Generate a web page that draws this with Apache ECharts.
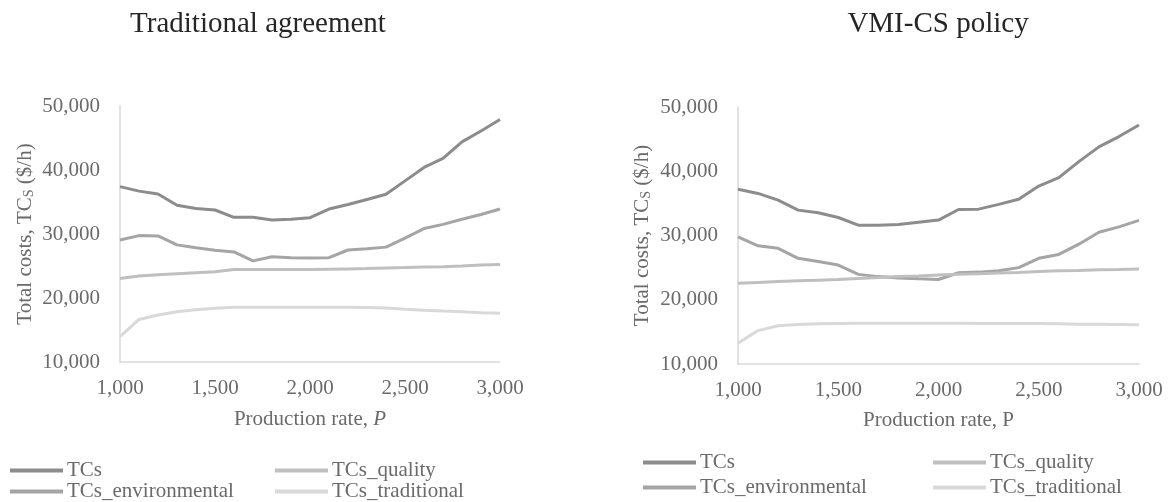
<!DOCTYPE html>
<html>
<head>
<meta charset="utf-8">
<script src="https://cdn.jsdelivr.net/npm/echarts@6/dist/echarts.min.js"></script>
<style>
html,body{margin:0;padding:0;background:#fff;}
#chart{width:1169px;height:502px;}
</style>
</head>
<body>
<div id="chart"></div>
<script>
// ---- data ----
const productionRate = [1000,1100,1200,1300,1400,1500,1600,1700,1800,1900,2000,2100,2200,2300,2400,2500,2600,2700,2800,2900,3000];

const seriesNames = ['TCs','TCs_quality','TCs_environmental','TCs_traditional'];
const chartTitles = ['Traditional agreement','VMI-CS policy'];

// Traditional agreement
const tradTCs = [37400,36700,36250,34500,34000,33750,32600,32600,32200,32300,32550,33900,34600,35400,36200,38300,40400,41800,44400,46100,47900];
const tradEnv = [29050,29750,29700,28300,27850,27450,27200,25800,26450,26300,26250,26300,27500,27700,27950,29350,30850,31500,32300,33050,33900];
const tradQual = [23050,23450,23650,23800,23950,24100,24450,24450,24450,24450,24450,24500,24550,24600,24700,24750,24850,24900,25000,25150,25250];
const tradTrad = [13950,16650,17350,17850,18150,18400,18550,18550,18550,18550,18550,18550,18550,18500,18450,18250,18100,17950,17850,17700,17600];

// VMI-CS policy
const vmiTCs = [37200,36550,35500,33950,33550,32800,31600,31600,31700,32050,32400,34050,34100,34850,35650,37700,39000,41500,43800,45400,47200];
const vmiEnv = [29800,28400,28000,26450,25950,25400,23950,23600,23400,23250,23150,24200,24300,24500,25000,26450,27050,28650,30500,31350,32350];
const vmiQual = [22550,22700,22850,22950,23050,23150,23300,23450,23600,23700,23850,23950,24050,24150,24250,24400,24500,24550,24650,24700,24800];
const vmiTrad = [13250,15200,15950,16150,16250,16300,16350,16350,16350,16350,16350,16350,16300,16300,16300,16300,16250,16200,16200,16150,16100];

const chartData = [
  [tradTCs, tradQual, tradEnv, tradTrad],
  [vmiTCs, vmiQual, vmiEnv, vmiTrad]
];
const xItalicP = [true, false];

// ---- styles ----
const FONT = "'Liberation Serif', 'Times New Roman', serif";
const lineColors = {'TCs':'#8c8c8c','TCs_quality':'#bfbfbf','TCs_environmental':'#a5a5a5','TCs_traditional':'#d9d9d9'};
const textGrey = '#6a6a6a';
const axisGrey = '#d9d9d9';

const fmt = v => Number(v).toLocaleString('en-US');

const grids = [
  {left:120, top:106, width:380, height:256},
  {left:738, top:107, width:401, height:257}
];
const titlePos = [{cx:253}, {cx:933}];

// legend placement: [name, left, top]
const legendSlots = [
  ['TCs',10,460],['TCs_environmental',10,481],['TCs_quality',275,460],['TCs_traditional',275,481],
  ['TCs',643,452],['TCs_environmental',643,477],['TCs_quality',933,452],['TCs_traditional',933,477]
];

const option = {
  animation:false,
  backgroundColor:'#fff',
  title: chartTitles.map((t,i)=>({
    text:t,
    left: titlePos[i].cx, top:5,
    textAlign:'center',
    textStyle:{fontFamily:FONT,fontSize:29,fontWeight:'normal',color:'#262626'}
  })),
  grid: grids,
  xAxis: grids.map((g,i)=>({
    type:'value', gridIndex:i, min:1000, max:3000, interval:500,
    axisLine:{show:true,lineStyle:{color:axisGrey,width:1.5}},
    axisTick:{show:false},
    splitLine:{show:false},
    axisLabel:{fontFamily:FONT,fontSize:21,color:textGrey,margin:16,formatter:fmt},
    name: xItalicP[i] ? 'Production rate, {i|P}' : 'Production rate, P',
    nameLocation:'middle', nameGap:i===0?47:46,
    nameTextStyle:{fontFamily:FONT,fontSize:21,color:textGrey,
      rich:{i:{fontFamily:FONT,fontSize:21,color:textGrey,fontStyle:'italic'}}}
  })),
  yAxis: grids.map((g,i)=>({
    type:'value', gridIndex:i, min:10000, max:50000, interval:10000,
    axisLine:{show:true,lineStyle:{color:axisGrey,width:1.5}},
    axisTick:{show:false},
    splitLine:{show:false},
    axisLabel:{fontFamily:FONT,fontSize:21,color:textGrey,margin:20,formatter:fmt},
    name:'Total costs, TC{s|S} ($/h)',
    nameLocation:'middle', nameRotate:90, nameGap:i===0?84:85,
    nameTextStyle:{fontFamily:FONT,fontSize:21,color:textGrey,
      rich:{s:{fontFamily:FONT,fontSize:14,color:textGrey,verticalAlign:'bottom',padding:[8,0,0,0]}}}
  })),
  legend: legendSlots.map(s=>({
    left:s[1], top:s[2], data:[s[0]],
    icon:'rect', itemWidth:53, itemHeight:4, padding:0,
    textStyle:{fontFamily:FONT,fontSize:21,color:textGrey,padding:[0,0,0,-1]},
    selectedMode:false
  })),
  series: []
};

chartData.forEach((sets,ci)=>{
  sets.forEach((vals,si)=>{
    const name = seriesNames[si];
    option.series.push({
      type:'line', name:name,
      xAxisIndex:ci, yAxisIndex:ci,
      data: productionRate.map((x,k)=>[x, vals[k]]),
      showSymbol:false, symbol:'none',
      lineStyle:{color:lineColors[name], width:3},
      itemStyle:{color:lineColors[name]},
      z: 10 - si
    });
  });
});

const chart = echarts.init(document.getElementById('chart'), null, {renderer:'canvas'});
chart.setOption(option);
</script>
</body>
</html>
